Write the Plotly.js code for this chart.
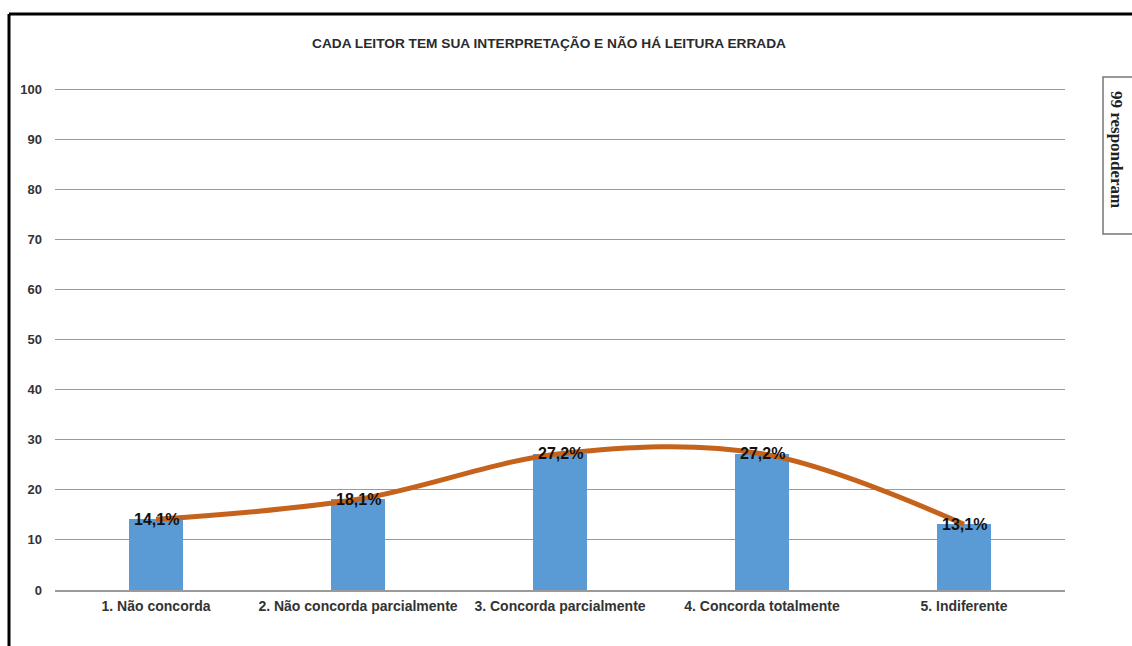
<!DOCTYPE html>
<html>
<head>
<meta charset="utf-8">
<script src="https://cdn.plot.ly/plotly-3.0.1.min.js"></script>
<style>
  html, body { margin: 0; padding: 0; background: #fff; }
  #chart { width: 1132px; height: 646px; }
</style>
</head>
<body>
<div id="chart"></div>
<script>
// Survey answers: "Cada leitor tem sua interpretação e não há leitura errada"
const categories = [
  "1. Não concorda",
  "2. Não concorda parcialmente",
  "3. Concorda parcialmente",
  "4. Concorda totalmente",
  "5. Indiferente"
];
const percentages = [14.1, 18.1, 27.2, 27.2, 13.1];
const valueLabels = ["14,1%", "18,1%", "27,2%", "27,2%", "13,1%"];
const yTicks = [0, 10, 20, 30, 40, 50, 60, 70, 80, 90, 100];
const titleText = "CADA LEITOR TEM SUA INTERPRETAÇÃO E NÃO HÁ LEITURA ERRADA";
const respondentsText = "99 responderam";

const W = 1132, H = 646;
const M = { l: 55, r: 67, t: 84, b: 56 };
const plotW = W - M.l - M.r, plotH = H - M.t - M.b;
// pixel -> paper coordinates, for decorations outside the plot area
const px = x => (x - M.l) / plotW;
const py = y => (H - M.b - y) / plotH;

const bars = {
  type: "bar",
  x: categories,
  y: percentages,
  width: 0.27,
  marker: { color: "#5b9bd5" },
  hoverinfo: "skip"
};

const trend = {
  type: "scatter",
  mode: "lines",
  x: categories,
  y: percentages,
  line: { color: "#c5621c", width: 5, shape: "spline", smoothing: 1 },
  hoverinfo: "skip"
};

const labelAnnotations = categories.map((c, i) => ({
  x: c, y: percentages[i], xref: "x", yref: "y",
  text: "<b>" + valueLabels[i] + "</b>",
  showarrow: false, yanchor: "middle", xanchor: "center",
  font: { family: "Liberation Sans, Arial, sans-serif", size: 16, color: "#111" }
}));

const layout = {
  width: W, height: H,
  margin: M,
  paper_bgcolor: "#fff",
  plot_bgcolor: "#fff",
  showlegend: false,
  bargap: 0,
  title: {
    text: "<b>" + titleText + "</b>",
    xref: "paper", x: px(549), xanchor: "center",
    y: 1 - 43 / H, yanchor: "middle",
    font: { family: "Liberation Sans Narrow, Arial Narrow, sans-serif", size: 13.7, color: "#2b2b2b" }
  },
  xaxis: {
    type: "category",
    showgrid: false,
    showline: true, linecolor: "#9a9a9a", linewidth: 2,
    ticks: "",
    tickfont: { family: "Liberation Sans, Arial, sans-serif", size: 14, color: "#333", weight: "bold" },
    ticklabelstandoff: 2,
    fixedrange: true
  },
  yaxis: {
    range: [0, 101],
    tickvals: yTicks,
    ticktext: yTicks.map(v => "<b>" + v + "</b>"),
    showgrid: true, gridcolor: "#999999", gridwidth: 1,
    zeroline: false, showline: false,
    ticks: "",
    tickfont: { family: "Liberation Sans, Arial, sans-serif", size: 13, color: "#333" },
    ticklabelstandoff: 12,
    fixedrange: true
  },
  shapes: [
    // frame around the figure (left and top edges visible)
    { type: "line", xref: "paper", yref: "paper",
      x0: px(9), x1: px(9), y0: py(14), y1: py(H + 5),
      line: { color: "#000", width: 3 } },
    { type: "line", xref: "paper", yref: "paper",
      x0: px(9), x1: px(W + 5), y0: py(14), y1: py(14),
      line: { color: "#000", width: 3 } },
    // respondents box on the right
    { type: "rect", xref: "paper", yref: "paper",
      x0: px(1103), x1: px(W + 5), y0: py(77), y1: py(234),
      line: { color: "#777", width: 1.5 }, fillcolor: "rgba(0,0,0,0)" }
  ],
  annotations: labelAnnotations.concat([
    { xref: "paper", yref: "paper", x: px(1117), y: py(149),
      text: "<b>" + respondentsText + "</b>", textangle: 90,
      showarrow: false, xanchor: "center", yanchor: "middle",
      font: { family: "Liberation Serif, Times New Roman, serif", size: 17, color: "#222" } }
  ])
};

Plotly.newPlot("chart", [bars, trend], layout, { displayModeBar: false, staticPlot: true });
</script>
</body>
</html>
